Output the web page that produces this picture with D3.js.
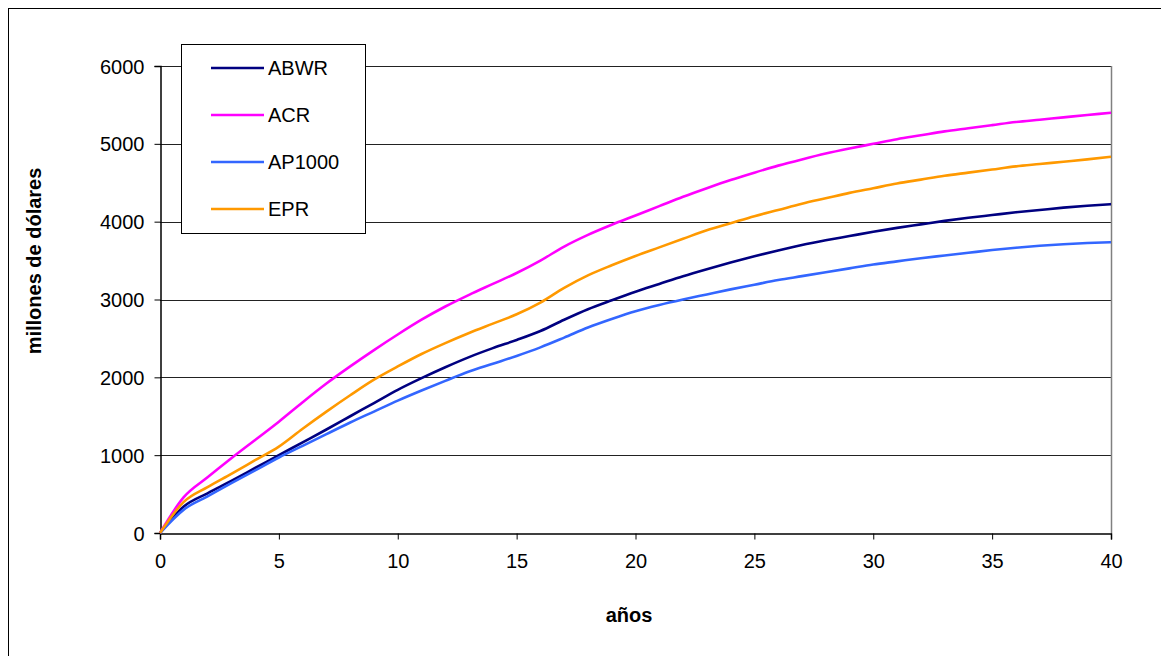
<!DOCTYPE html>
<html><head><meta charset="utf-8">
<script src="https://cdn.jsdelivr.net/npm/d3@7"></script>
<style>
html,body{margin:0;padding:0;background:#fff;}
text{font-family:"Liberation Sans",Arial,sans-serif;fill:#000;}
</style></head>
<body>
<svg id="c" width="1161" height="656"></svg>
<script>
const years = d3.range(0, 41);
const abwr = [0,340,510,670,835,1000,1165,1330,1500,1670,1840,1990,2130,2260,2375,2480,2595,2740,2875,2990,3100,3200,3300,3390,3475,3555,3630,3700,3760,3815,3870,3920,3965,4010,4050,4085,4120,4150,4180,4205,4225];
const acr = [0,460,715,960,1195,1430,1680,1920,2140,2350,2550,2740,2910,3060,3200,3340,3500,3680,3830,3960,4080,4200,4320,4430,4535,4630,4720,4800,4875,4940,5000,5060,5110,5160,5200,5240,5280,5310,5340,5370,5400];
const ap1000 = [0,300,470,640,805,970,1120,1270,1420,1560,1700,1830,1955,2075,2175,2275,2385,2510,2640,2750,2850,2930,3000,3065,3130,3190,3250,3300,3350,3400,3450,3490,3530,3565,3600,3635,3665,3690,3710,3725,3735];
const epr = [0,400,590,760,935,1110,1340,1560,1770,1970,2140,2300,2440,2570,2690,2810,2960,3150,3310,3440,3560,3670,3780,3890,3980,4070,4150,4230,4300,4370,4430,4490,4540,4590,4630,4670,4710,4740,4770,4800,4835];
const seriesNames = ["ABWR","ACR","AP1000","EPR"];
const seriesColors = ["#000080","#FF00FF","#3366FF","#FF9900"];
const seriesValues = [abwr, acr, ap1000, epr];
const xTicks = [0,5,10,15,20,25,30,35,40];
const yTicks = [0,1000,2000,3000,4000,5000,6000];

const svg = d3.select("#c");
// outer frame
svg.append("rect").attr("x",8.5).attr("y",8.5).attr("width",1170).attr("height",660)
  .attr("fill","none").attr("stroke","#000").attr("stroke-width",1);

const x = d3.scaleLinear().domain([0,40]).range([160,1111]);
const y = d3.scaleLinear().domain([0,6000]).range([533,66]);

// gridlines
svg.append("g").selectAll("line").data(yTicks.filter(d=>d>0)).join("line")
  .attr("x1",160).attr("x2",1111).attr("y1",d=>Math.round(y(d))+0.5).attr("y2",d=>Math.round(y(d))+0.5)
  .attr("stroke","#222").attr("stroke-width",1);
// right border
svg.append("line").attr("x1",1111.5).attr("x2",1111.5).attr("y1",66).attr("y2",533)
  .attr("stroke","#808080").attr("stroke-width",1.5);

// axes
const yAxis = svg.append("g").attr("transform","translate(160.5,0)")
  .call(d3.axisLeft(y).tickValues(yTicks).tickSize(6).tickPadding(10).tickFormat(d3.format("d")));
const xAxis = svg.append("g").attr("transform","translate(0,533.5)")
  .call(d3.axisBottom(x).tickValues(xTicks).tickSize(6).tickPadding(14).tickFormat(d3.format("d")));
[yAxis,xAxis].forEach(a=>{
  a.selectAll("path").attr("stroke","#000").attr("stroke-width",1.5);
  a.selectAll("line").attr("stroke","#000");
  a.selectAll("text").style("font-size","20px").style("font-family","Liberation Sans, Arial, sans-serif").attr("fill","#000");
});
yAxis.selectAll("text").attr("dy","0.35em");

// lines
const line = d3.line().x((d,i)=>x(years[i])).y(d=>y(d)).curve(d3.curveMonotoneX);
svg.append("g").selectAll("path").data(seriesValues).join("path")
  .attr("d",line).attr("fill","none")
  .attr("stroke",(d,i)=>seriesColors[i]).attr("stroke-width",2.6)
  .attr("stroke-linejoin","round");

// legend
const lg = svg.append("g");
lg.append("rect").attr("x",181.5).attr("y",44.5).attr("width",184).attr("height",189)
  .attr("fill","#fff").attr("stroke","#000").attr("stroke-width",1);
const items = lg.selectAll("g.it").data(seriesNames).join("g").attr("class","it")
  .attr("transform",(d,i)=>`translate(0,${68+i*47})`);
items.append("line").attr("x1",211).attr("x2",264).attr("y1",0).attr("y2",0)
  .attr("stroke",(d,i)=>seriesColors[i]).attr("stroke-width",2.6);
items.append("text").attr("x",268).attr("y",0).attr("dy","0.36em")
  .style("font-size","20px").text(d=>d);

// axis titles
svg.append("text").attr("x",629).attr("y",622).attr("text-anchor","middle")
  .style("font-size","20px").style("font-weight","bold").text("años");
svg.append("text").attr("transform","translate(41,261) rotate(-90)").attr("text-anchor","middle")
  .style("font-size","20px").style("font-weight","bold").text("millones de dólares");
</script>
</body></html>
